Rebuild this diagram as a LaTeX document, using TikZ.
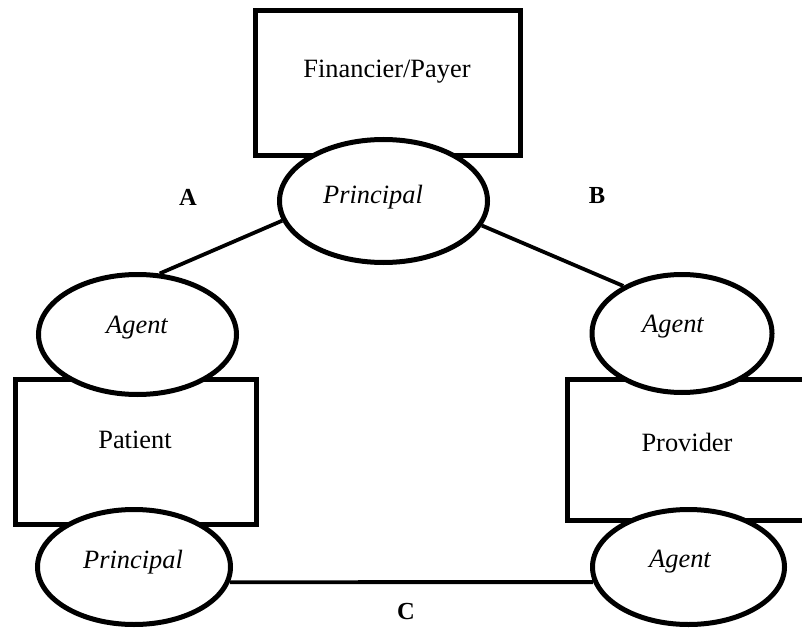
\documentclass[tikz,border=0pt]{standalone}
\usepackage{fontspec}
\setmainfont{Liberation Serif}
\usetikzlibrary{shapes.geometric}
\begin{document}
\begin{tikzpicture}[x=1pt,y=-1pt,
  box/.style={draw, line width=5pt, rectangle, inner sep=0pt},
  oval/.style={draw, line width=5pt, ellipse, fill=white, inner sep=0pt},
  txt/.style={font=\fontsize{26.4}{30}\selectfont, inner sep=0pt},
  itxt/.style={font=\fontsize{26.4}{30}\selectfont\itshape, inner sep=0pt},
  lbl/.style={font=\fontsize{24.5}{28}\selectfont\bfseries, inner sep=0pt},
  link/.style={line width=3.8pt}]
\useasboundingbox (0,0) rectangle (802,628);
\clip (0,0) rectangle (802,628);
% boxes
\node[box, minimum width=265pt, minimum height=145pt] (fin) at (388,83) {};
\node[box, minimum width=241pt, minimum height=145pt] (pat) at (136,452) {};
\node[box, minimum width=244.5pt, minimum height=141pt] (pro) at (689.75,450) {};
% ovals
\node[oval, minimum width=208pt, minimum height=123pt] (pt) at (383.5,201) {};
\node[oval, minimum width=198pt, minimum height=120pt] (al) at (137.5,334.5) {};
\node[oval, minimum width=180pt, minimum height=118pt] (ar) at (682,333.5) {};
\node[oval, minimum width=193pt, minimum height=115pt] (pb) at (134,567) {};
\node[oval, minimum width=192pt, minimum height=115pt] (ab) at (688.5,567) {};
% texts
\node[txt] (tfin) at (387,72) {Financier/Payer};
\node[txt] (tpat) at (135,440) {Patient};
\node[txt] (tpro) at (687,442) {Provider};
\node[itxt] (tpt) at (373,197) {Principal};
\node[itxt] (tal) at (137,328) {Agent};
\node[itxt] (tar) at (673,327) {Agent};
\node[itxt] (tpb) at (133,562) {Principal};
\node[itxt] (tab) at (680,562) {Agent};
% labels
\node[lbl] (la) at (188,197) {A};
\node[lbl] (lb) at (597,196) {B};
\node[lbl] (lc) at (406,612) {C};
% connectors
\draw[link] (pt.191.5) -- (al.70);
\draw[link] (pt.-14) -- (ar.141);
\draw[link] (pb.-9.8) -- (ab.189.8);
\end{tikzpicture}
\end{document}
